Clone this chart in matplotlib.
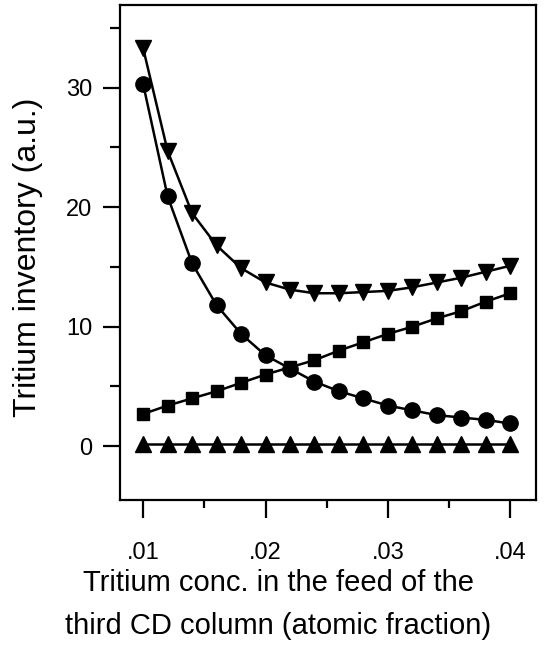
import matplotlib
matplotlib.use("Agg")
import matplotlib.pyplot as plt
from matplotlib.ticker import MultipleLocator, FuncFormatter
import numpy as np

# feed concentration (atomic fraction)
conc = [0.010, 0.012, 0.014, 0.016, 0.018, 0.020, 0.022, 0.024,
        0.026, 0.028, 0.030, 0.032, 0.034, 0.036, 0.038, 0.040]

# tritium inventory
total = [33.3, 24.7, 19.5, 16.8, 14.9, 13.7, 13.1, 12.8,
         12.8, 12.9, 13.0, 13.3, 13.7, 14.1, 14.6, 15.1]
circles = [30.3, 20.9, 15.3, 11.8, 9.4, 7.6, 6.5, 5.4,
           4.6, 4.0, 3.4, 3.0, 2.6, 2.4, 2.2, 1.9]
squares = [2.7, 3.4, 4.0, 4.6, 5.3, 6.0, 6.6, 7.2,
           8.0, 8.7, 9.4, 10.0, 10.7, 11.3, 12.1, 12.8]
flat = [0.2] * 16

plt.rcParams['font.family'] = ['Liberation Sans', 'DejaVu Sans']

fig = plt.figure(figsize=(5.45, 6.57), dpi=100)
ax = fig.add_axes([0.220, 0.239, 0.7635, 0.753])

ax.plot(conc, squares, color="black", lw=1.8, marker="s", ms=9, zorder=3)
ax.plot(conc, flat, color="black", lw=1.8, marker="^", ms=11, zorder=3)
ax.plot(conc, circles, color="black", lw=1.8, marker="o", ms=11, zorder=4)
ax.plot(conc, total, color="black", lw=1.8, marker="v", ms=11, zorder=4)

ax.set_xlim(0.0081, 0.0421)
ax.set_ylim(-4.5, 36.9)

ax.xaxis.set_major_locator(MultipleLocator(0.01))
ax.xaxis.set_minor_locator(MultipleLocator(0.005))
ax.yaxis.set_major_locator(MultipleLocator(10))
ax.yaxis.set_minor_locator(MultipleLocator(5))
ax.xaxis.set_major_formatter(FuncFormatter(lambda v, p: ("%.2f" % v).lstrip("0")))

for s in ax.spines.values():
    s.set_linewidth(1.6)

ax.tick_params(axis="x", which="major", direction="out", length=13, width=1.6,
               pad=17, labelsize=17)
ax.tick_params(axis="x", which="minor", direction="out", length=6, width=1.6)
ax.tick_params(axis="y", which="major", direction="out", length=12, width=1.6,
               pad=8, labelsize=17)
ax.tick_params(axis="y", which="minor", direction="out", length=7, width=1.6)

ax.set_ylabel("Tritium inventory (a.u.)", fontsize=23)
ax.yaxis.set_label_coords(-0.185, 0.49)
ax.set_xlabel("Tritium conc. in the feed of the\nthird CD column (atomic fraction)",
              fontsize=21, linespacing=1.65)
ax.xaxis.set_label_coords(0.38, -0.14)

plt.savefig("out.png", dpi=100)
